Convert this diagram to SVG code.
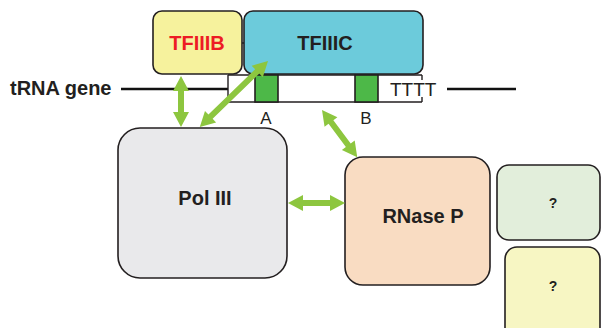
<svg xmlns="http://www.w3.org/2000/svg" width="601" height="328" viewBox="0 0 601 328">
  <style>
    .box { stroke: #231f20; stroke-width: 1.6; }
    .lbl { font-family: "Liberation Sans", Arial, sans-serif; font-weight: bold; fill: #231f20; text-anchor: middle; }
    .plain { font-family: "Liberation Sans", Arial, sans-serif; fill: #231f20; }
    .dna { stroke: #111; stroke-width: 2.6; fill: none; }
    .arrow { fill: #8dc63f; }
  </style>
  <defs>
    <!-- double-headed arrow bodies, drawn along +x then rotated into place -->
  </defs>

  <rect width="601" height="328" fill="#ffffff"/>

  <!-- gene line and promoter region -->
  <g id="gene">
    <text class="lbl" x="10" y="95" font-size="20" text-anchor="start" style="text-anchor:start">tRNA gene</text>
    <line class="dna" x1="121" y1="89" x2="228" y2="89"/>
    <line class="dna" x1="447" y1="89" x2="516" y2="89"/>
    <path d="M228,75 H422 M228,102 H422 M228,75 V102 M422,75 V80 M422,97 V102" stroke="#231f20" stroke-width="1.4" fill="none"/>
    <rect class="box" x="255" y="75" width="23" height="27" fill="#4db848" stroke-width="1.2"/>
    <rect class="box" x="355" y="75" width="23" height="27" fill="#4db848" stroke-width="1.2"/>
    <text class="plain" x="390" y="96" font-size="19">TTTT</text>
    <text class="plain" x="266" y="124" font-size="17" text-anchor="middle">A</text>
    <text class="plain" x="366" y="124" font-size="17" text-anchor="middle">B</text>
  </g>

  <g id="tfiiib">
    <rect class="box" x="153" y="11" width="89" height="63" rx="9" fill="#f6f29d"/>
    <text class="lbl" x="197" y="50" font-size="20" style="fill:#ed1c24">TFIIIB</text>
  </g>
  <line x1="242" y1="43" x2="244" y2="43" stroke="#231f20" stroke-width="1.4"/>

  <g id="tfiiic">
    <rect class="box" x="244" y="11" width="179" height="63" rx="9" fill="#6ccbdb"/>
    <text class="lbl" x="325" y="50" font-size="20">TFIIIC</text>
  </g>

  <g id="pol3">
    <rect class="box" x="118" y="128" width="169" height="150" rx="22" fill="#e9e9eb"/>
    <text class="lbl" x="205" y="205" font-size="20">Pol III</text>
  </g>

  <g id="rnasep">
    <rect class="box" x="345" y="157" width="145" height="128" rx="18" fill="#f9dcc2"/>
    <text class="lbl" x="423" y="223" font-size="20">RNase P</text>
  </g>

  <g id="unknown1">
    <rect class="box" x="497" y="165" width="103" height="75" rx="12" fill="#e2eedb"/>
    <text class="lbl" x="553" y="208" font-size="14">?</text>
  </g>

  <g id="unknown2">
    <rect class="box" x="505" y="247" width="95" height="95" rx="12" fill="#f7f6c3"/>
    <text class="lbl" x="553" y="291" font-size="14">?</text>
  </g>

  <!-- interaction arrows -->
  <g id="connectors" class="arrow">
    <path transform="translate(181,76) rotate(90)" d="M0,0 L15,-8 L15,-3 L36,-3 L36,-8 L51,0 L36,8 L36,3 L15,3 L15,8 Z"/>
    <path transform="translate(268,61) rotate(135.9)" d="M0,0 L15,-8 L15,-3 L80,-3 L80,-8 L95,0 L80,8 L80,3 L15,3 L15,8 Z"/>
    <path transform="translate(322,110) rotate(53.3)" d="M0,0 L15,-8 L15,-3 L44,-3 L44,-8 L59,0 L44,8 L44,3 L15,3 L15,8 Z"/>
    <path transform="translate(288,203)" d="M0,0 L15,-8 L15,-3 L42,-3 L42,-8 L57,0 L42,8 L42,3 L15,3 L15,8 Z"/>
  </g>
</svg>
